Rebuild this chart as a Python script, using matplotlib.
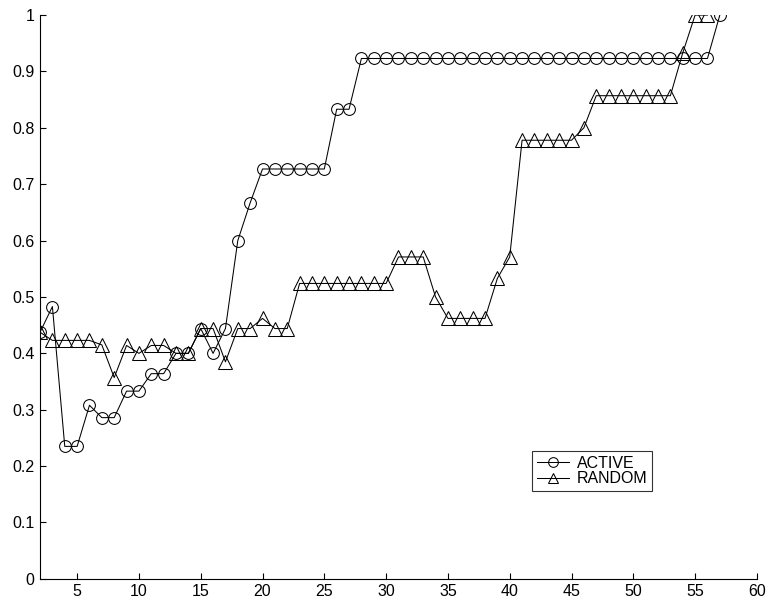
import matplotlib
matplotlib.use("Agg")
import matplotlib.pyplot as plt
import numpy as np

plt.rcParams['font.family'] = ['Liberation Sans', 'DejaVu Sans']

# ACTIVE learning curve, x = 2..57
active_x = list(range(2, 58))
active_y = [0.4375, 0.483, 0.235, 0.235, 0.308, 0.286, 0.286, 0.333, 0.333,
            0.364, 0.364, 0.4, 0.4, 0.444, 0.4, 0.444, 0.6, 0.667, 0.727,
            0.727, 0.727, 0.727, 0.727, 0.727, 0.833, 0.833] + [0.923] * 29 + [1.0]

# RANDOM curve, x = 2..56
random_x = list(range(2, 57))
random_y = [0.4375, 0.423, 0.423, 0.423, 0.423, 0.415, 0.357, 0.414, 0.4,
            0.414, 0.414, 0.4, 0.4, 0.444, 0.444, 0.385, 0.444, 0.444, 0.462,
            0.444, 0.444] + [0.524] * 8 + [0.571, 0.571, 0.571, 0.5,
            0.462, 0.462, 0.462, 0.462, 0.533, 0.571] + [0.778] * 5 + [0.8] + \
           [0.857] * 7 + [0.933, 1.0, 1.0]

x_ticks = [5, 10, 15, 20, 25, 30, 35, 40, 45, 50, 55, 60]
y_ticks = [0, 0.1, 0.2, 0.3, 0.4, 0.5, 0.6, 0.7, 0.8, 0.9, 1]
y_labels = ['0', '0.1', '0.2', '0.3', '0.4', '0.5', '0.6', '0.7', '0.8', '0.9', '1']

fig = plt.figure(figsize=(7.7, 6.03), dpi=100)
ax = fig.add_axes([0.052, 0.04, 0.931, 0.935])

ax.plot(active_x, active_y, color='black', lw=0.75, marker='o', ms=8.5,
        mfc='none', mec='black', mew=0.75, label='ACTIVE')
ax.plot(random_x, random_y, color='black', lw=0.75, marker='^', ms=10,
        mfc='none', mec='black', mew=0.75, label='RANDOM')

ax.set_xlim(2, 60)
ax.set_ylim(0, 1)
ax.set_xticks(x_ticks)
ax.set_yticks(y_ticks)
ax.set_yticklabels(y_labels)
ax.tick_params(direction='in', length=4, width=0.8, labelsize=11.5, pad=4)
ax.spines['top'].set_visible(False)
ax.spines['right'].set_visible(False)

leg = ax.legend(loc='upper left', bbox_to_anchor=(0.686, 0.227), fontsize=11.5,
                frameon=True, fancybox=False, edgecolor='black',
                handlelength=2.0, borderpad=0.3, labelspacing=0.05,
                handletextpad=0.5, borderaxespad=0)
leg.get_frame().set_linewidth(0.8)
for h in leg.legend_handles:
    h.set_markersize(7)

plt.savefig("out.png", dpi=100)
